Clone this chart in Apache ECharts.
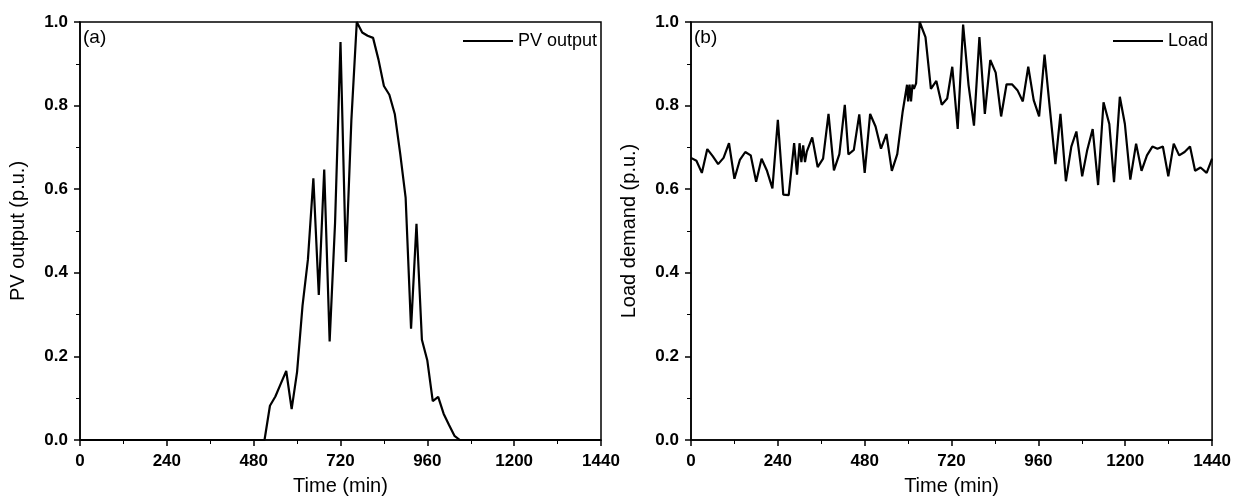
<!DOCTYPE html>
<html>
<head>
<meta charset="utf-8">
<script src="https://cdn.jsdelivr.net/npm/echarts@6/dist/echarts.min.js"></script>
<style>
  html, body { margin: 0; padding: 0; background: #fff; }
  #chart { width: 1234px; height: 501px; }
</style>
</head>
<body>
<div id="chart"></div>
<script>
// (a) PV output, p.u. (zero outside the daylight window)
const pvTime = [0, 510, 525, 540, 555, 570, 585, 600, 615, 630, 645, 660, 675, 690, 705, 720, 735, 750, 765, 780, 795, 810, 825, 840, 855, 870, 885, 900, 915, 930, 945, 960, 975, 990, 1005, 1020, 1035, 1050, 1440];
const pvValue = [0, 0, 0.082, 0.104, 0.135, 0.165, 0.074, 0.163, 0.321, 0.432, 0.626, 0.347, 0.647, 0.236, 0.52, 0.952, 0.426, 0.764, 1.0, 0.975, 0.967, 0.962, 0.91, 0.847, 0.826, 0.78, 0.685, 0.58, 0.266, 0.517, 0.24, 0.19, 0.093, 0.103, 0.063, 0.036, 0.01, 0, 0];

// (b) Load demand, p.u.
const loadTime = [0, 15, 30, 45, 60, 75, 90, 105, 120, 135, 150, 165, 180, 195, 210, 225, 240, 255, 270, 285, 293, 300, 305, 310, 315, 320, 335, 350, 365, 380, 395, 410, 425, 435, 450, 465, 480, 495, 510, 525, 540, 555, 570, 585, 597, 600, 604, 608, 612, 616, 622, 632, 648, 663, 678, 693, 708, 722, 737, 752, 767, 782, 797, 812, 827, 842, 857, 872, 887, 902, 917, 932, 947, 962, 977, 992, 1007, 1021, 1036, 1051, 1065, 1081, 1095, 1110, 1125, 1140, 1156, 1169, 1185, 1199, 1214, 1230, 1245, 1260, 1275, 1289, 1304, 1319, 1334, 1349, 1364, 1379, 1393, 1408, 1425, 1440];
const loadValue = [0.675, 0.668, 0.639, 0.696, 0.679, 0.66, 0.675, 0.71, 0.625, 0.67, 0.689, 0.681, 0.618, 0.673, 0.644, 0.602, 0.766, 0.587, 0.586, 0.71, 0.635, 0.71, 0.665, 0.705, 0.665, 0.69, 0.724, 0.653, 0.673, 0.78, 0.645, 0.684, 0.802, 0.683, 0.694, 0.779, 0.639, 0.78, 0.75, 0.697, 0.732, 0.644, 0.684, 0.786, 0.85, 0.81, 0.85, 0.81, 0.85, 0.84, 0.853, 1.0, 0.964, 0.84, 0.859, 0.802, 0.817, 0.893, 0.744, 0.994, 0.849, 0.752, 0.964, 0.78, 0.909, 0.879, 0.774, 0.851, 0.851, 0.837, 0.81, 0.893, 0.813, 0.774, 0.922, 0.79, 0.66, 0.78, 0.619, 0.702, 0.738, 0.631, 0.694, 0.744, 0.61, 0.808, 0.756, 0.617, 0.821, 0.756, 0.623, 0.709, 0.644, 0.681, 0.702, 0.697, 0.702, 0.631, 0.709, 0.681, 0.689, 0.702, 0.644, 0.652, 0.639, 0.673];

const FONT = '"Liberation Sans", Arial, sans-serif';

const xAxisBase = (gridIndex) => ({
  type: 'value',
  gridIndex,
  min: 0,
  max: 1440,
  interval: 240,
  name: 'Time (min)',
  nameLocation: 'middle',
  nameGap: 36,
  nameTextStyle: { fontFamily: FONT, fontSize: 20, color: '#000' },
  axisLine: { show: true, onZero: false, lineStyle: { color: '#000', width: 1.5 } },
  axisTick: { show: true, inside: false, length: 6, lineStyle: { color: '#000', width: 1.5 } },
  minorTick: { show: true, splitNumber: 2, length: 4, lineStyle: { color: '#000', width: 1 } },
  axisLabel: {
    fontFamily: FONT, fontSize: 17, fontWeight: 'bold', color: '#000', margin: 13,
    showMaxLabel: true, showMinLabel: true,
    formatter: (v) => String(v),
  },
  splitLine: { show: false },
});

const yAxisBase = (gridIndex, name) => ({
  type: 'value',
  gridIndex,
  min: 0,
  max: 1,
  interval: 0.2,
  name,
  nameLocation: 'middle',
  nameGap: 52,
  nameTextStyle: { fontFamily: FONT, fontSize: 20, color: '#000' },
  axisLine: { show: true, onZero: false, lineStyle: { color: '#000', width: 1.5 } },
  axisTick: { show: true, inside: false, length: 6, lineStyle: { color: '#000', width: 1.5 } },
  minorTick: { show: true, splitNumber: 2, length: 4, lineStyle: { color: '#000', width: 1 } },
  axisLabel: {
    fontFamily: FONT, fontSize: 17, fontWeight: 'bold', color: '#000', margin: 12,
    formatter: (v) => v.toFixed(1),
  },
  splitLine: { show: false },
});

const legendBase = (name, left) => ({
  data: [name], left, top: 27, icon: 'rect', itemWidth: 50, itemHeight: 2, itemGap: 0,
  itemStyle: { color: '#000' },
  textStyle: { fontFamily: FONT, fontSize: 18, color: '#000' },
});

const chart = echarts.init(document.getElementById('chart'));
chart.setOption({
  backgroundColor: '#fff',
  animation: false,
  grid: [
    { left: 80, top: 22, width: 521, height: 421, show: true, borderColor: '#000', borderWidth: 1.5 },
    { left: 691, top: 22, width: 523, height: 421, show: true, borderColor: '#000', borderWidth: 1.5 },
  ],
  xAxis: [xAxisBase(0), xAxisBase(1)],
  yAxis: [yAxisBase(0, 'PV output (p.u.)'), yAxisBase(1, 'Load demand (p.u.)')],
  legend: [legendBase('PV output', 458), legendBase('Load', 1108)],
  graphic: [
    { type: 'text', left: 83, top: 28, style: { text: '(a)', font: '19px ' + FONT, fill: '#000' } },
    { type: 'text', left: 694, top: 28, style: { text: '(b)', font: '19px ' + FONT, fill: '#000' } },
  ],
  series: [
    {
      name: 'PV output', type: 'line', xAxisIndex: 0, yAxisIndex: 0,
      symbol: 'none', clip: false,
      lineStyle: { color: '#000', width: 2.2 },
      itemStyle: { color: '#000' },
      data: pvTime.map((t, i) => [t, pvValue[i]]),
    },
    {
      name: 'Load', type: 'line', xAxisIndex: 1, yAxisIndex: 1,
      symbol: 'none', clip: false,
      lineStyle: { color: '#000', width: 2.2 },
      itemStyle: { color: '#000' },
      data: loadTime.map((t, i) => [t, loadValue[i]]),
    },
  ],
});
</script>
</body>
</html>
